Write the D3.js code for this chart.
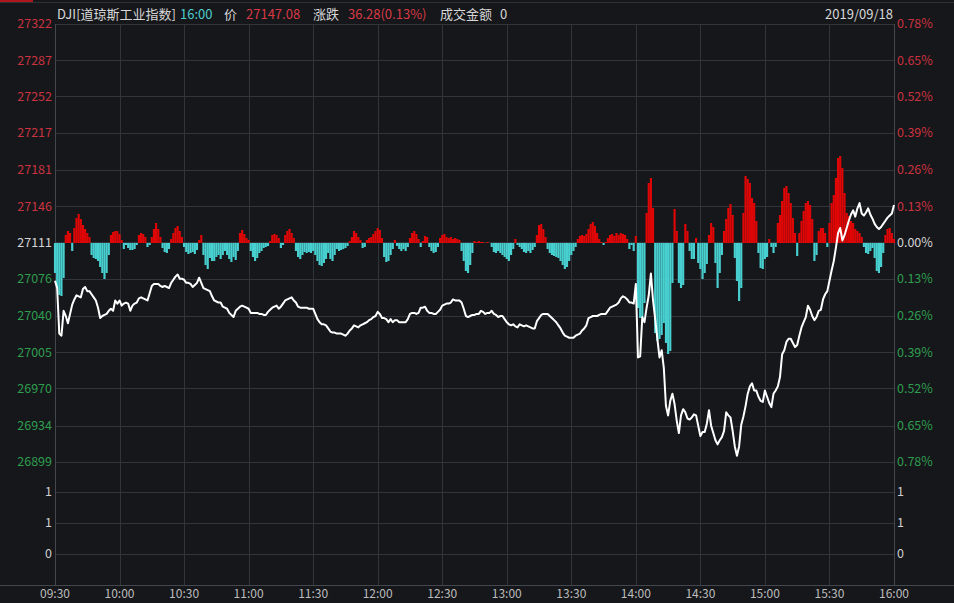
<!DOCTYPE html>
<html>
<head>
<meta charset="utf-8">
<script src="https://cdn.jsdelivr.net/npm/d3@7"></script>
<style>
  body { margin: 0; background: #16171b; }
  svg { display: block; font-family: "Noto Sans CJK SC", "Noto Sans", sans-serif; }
</style>
</head>
<body>
<svg class="chart"></svg>
<script>
// DJI intraday, 2019/09/18
var prevClose = 27110.8;

var timeLabels = ['09:30','10:00','10:30','11:00','11:30','12:00','12:30','13:00','13:30','14:00','14:30','15:00','15:30','16:00'];
var timeMinutes = [0,30,60,90,120,150,180,210,240,270,300,330,360,390];

var priceTicks = [27322,27287,27252,27217,27181,27146,27111,27076,27040,27005,26970,26934,26899];
var pctLabels = ['0.78%','0.65%','0.52%','0.39%','0.26%','0.13%','0.00%','0.13%','0.26%','0.39%','0.52%','0.65%','0.78%'];
var volTicks = [1.4, 0.7, 0];

// one price per minute, 09:30 .. 16:00
var prices = [
  27074,27067,27023,27021,27045,27040,27033,27042,27051,27056,
  27060,27059,27058,27066,27068,27064,27064,27061,27058,27055,
  27048,27038,27040,27041,27042,27045,27047,27045,27055,27052,
  27055,27050,27052,27053,27052,27045,27050,27052,27053,27057,
  27058,27057,27056,27055,27062,27069,27071,27071,27071,27069,
  27068,27069,27068,27067,27072,27075,27078,27080,27076,27076,
  27075,27072,27072,27071,27068,27070,27072,27077,27072,27067,
  27066,27065,27064,27059,27055,27054,27053,27053,27049,27048,
  27047,27043,27041,27039,27045,27047,27049,27050,27049,27048,
  27047,27043,27043,27043,27043,27042,27042,27041,27041,27044,
  27046,27048,27049,27050,27047,27049,27052,27055,27056,27057,
  27058,27055,27053,27049,27048,27048,27048,27048,27047,27047,
  27047,27042,27037,27034,27032,27032,27031,27028,27025,27024,
  27024,27023,27023,27023,27022,27021,27023,27026,27028,27031,
  27030,27029,27031,27032,27033,27034,27036,27037,27039,27040,
  27044,27042,27038,27038,27037,27034,27037,27034,27036,27036,
  27034,27034,27034,27034,27037,27042,27043,27043,27042,27043,
  27048,27048,27049,27045,27043,27043,27042,27042,27044,27046,
  27050,27051,27052,27052,27053,27056,27055,27055,27055,27053,
  27047,27040,27039,27040,27041,27041,27042,27042,27045,27044,
  27042,27043,27043,27045,27042,27041,27039,27040,27040,27037,
  27034,27032,27031,27032,27030,27029,27032,27031,27030,27031,
  27030,27029,27028,27028,27035,27038,27041,27042,27042,27042,
  27040,27038,27036,27034,27031,27028,27024,27021,27020,27019,
  27019,27019,27021,27022,27023,27026,27028,27031,27038,27039,
  27040,27040,27040,27041,27042,27042,27042,27045,27048,27049,
  27050,27051,27053,27057,27059,27058,27056,27053,27053,27052,
  27071,27000,27001,27039,27034,27048,27060,27081,27055,27037,
  27018,27000,27007,26990,26953,26944,26958,26965,26955,26939,
  26927,26944,26950,26947,26941,26940,26942,26945,26944,26934,
  26924,26928,26928,26936,26949,26934,26927,26920,26916,26920,
  26923,26929,26947,26944,26942,26929,26914,26905,26914,26935,
  26943,26953,26965,26972,26975,26968,26968,26962,26958,26957,
  26968,26962,26956,26952,26965,26968,26972,26981,27003,27007,
  27015,27018,27018,27014,27010,27012,27021,27029,27034,27039,
  27050,27046,27040,27036,27039,27045,27046,27056,27061,27064,
  27074,27084,27093,27106,27120,27125,27113,27118,27125,27132,
  27138,27142,27136,27144,27149,27139,27137,27140,27144,27138,
  27134,27129,27126,27124,27126,27129,27132,27135,27137,27139,
  27147.08
];

// lead indicator bars, one per minute (red up, cyan down)
var leadBars = [
  -30,-45,-52,-53,-35,8,12,10,-8,15,
  25,29,24,18,14,10,6,-12,-15,-16,
  -18,-24,-30,-36,-30,-12,8,11,12,12,
  9,3,-6,-2,-5,-7,-7,-6,-2,8,
  10,9,6,-4,-2,6,14,20,14,6,
  -5,-9,-10,-6,4,10,15,17,12,6,
  -4,-9,-11,-10,-9,-11,-7,3,8,-12,
  -22,-26,-15,-18,-18,-14,-12,-16,-12,-8,
  -12,-16,-19,-14,-17,-8,10,13,9,5,
  3,-8,-14,-18,-15,-10,-8,-5,-4,-3,
  2,8,9,8,5,-5,-2,8,12,14,
  10,5,-8,-14,-16,-12,-9,-10,-9,-10,
  -8,-12,-18,-22,-23,-20,-16,-10,-16,-18,
  -12,-6,-8,-7,-6,-5,-3,2,6,12,
  10,6,3,-5,-4,3,5,6,9,12,
  15,13,5,-14,-19,-18,-12,-6,3,-3,
  -6,-8,-6,-8,-4,5,10,12,9,4,
  -4,2,7,6,-4,-8,-10,-9,-4,5,
  8,9,6,5,6,4,5,4,3,-8,
  -18,-28,-30,-22,-10,2,1,2,1,1,
  0,1,0,-4,-9,-10,-8,-10,-12,-14,
  -16,-18,-12,-6,4,-2,-4,-6,-9,-10,
  -8,-10,-7,-4,8,18,19,14,6,-6,
  -10,-12,-13,-14,-15,-18,-22,-26,-24,-18,
  -12,-8,-4,4,7,8,7,9,14,19,
  21,17,10,4,1,-2,1,5,8,9,
  7,10,8,10,9,8,4,-6,-2,-8,
  7,-65,-75,-75,-60,30,60,65,35,-90,
  -98,-96,-92,-80,-100,-111,-108,-40,34,12,
  -40,-45,-42,19,12,-8,-16,-16,5,-20,
  -26,-36,-30,-21,8,20,16,-20,-45,-30,
  -12,12,24,35,39,28,-15,-38,-58,-45,
  30,67,64,60,45,40,22,-10,-25,-26,
  -16,-14,4,-4,-10,-4,20,28,42,55,
  57,50,40,25,10,-13,10,22,32,40,
  42,38,24,-18,-12,12,15,15,10,-4,
  20,40,48,65,85,87,75,50,30,27,
  22,20,14,12,10,6,-4,-10,-11,-8,
  -5,-15,-28,-30,-24,-10,8,14,15,10,
  4
];

var W = 954, H = 603;
var padL = 55, padR = 894, padT = 24, priceBottom = 462, axisY = 585;

var svg = d3.select('.chart').attr('width', W).attr('height', H);

svg.append('rect').attr('width', W).attr('height', H).attr('fill', '#16171b');
// strip of the panel above
svg.append('rect').attr('x', 0).attr('y', 0).attr('width', 33).attr('height', 2).attr('fill', '#b0161e');
svg.append('line').attr('x1', 0).attr('x2', W).attr('y1', 2.5).attr('y2', 2.5).attr('stroke', '#2e3037');

var x = d3.scaleLinear().domain([0, 390]).range([padL, padR]);
var y = d3.scaleLinear().domain([26899, 27322]).range([priceBottom, padT]);
// lead indicator shares the price area, 1 unit ~ 1px
var yLead = d3.scaleLinear().domain([-219, 219]).range([priceBottom, padT]);
var yVol = d3.scaleLinear().domain([0, 1.4]).range([554, 492]);

var gridColor = '#32343b';

// horizontal grid
svg.append('g').selectAll('line').data(priceTicks).join('line')
   .attr('x1', padL).attr('x2', padR)
   .attr('y1', d => Math.round(y(d)) + 0.5).attr('y2', d => Math.round(y(d)) + 0.5)
   .attr('stroke', gridColor);
svg.append('g').selectAll('line').data(volTicks).join('line')
   .attr('x1', padL).attr('x2', padR)
   .attr('y1', d => Math.round(yVol(d)) + 0.5).attr('y2', d => Math.round(yVol(d)) + 0.5)
   .attr('stroke', gridColor);

// vertical grid
svg.append('g').selectAll('line').data(timeMinutes).join('line')
   .attr('x1', d => Math.round(x(d)) + 0.5).attr('x2', d => Math.round(x(d)) + 0.5)
   .attr('y1', padT).attr('y2', axisY)
   .attr('stroke', d => (d === 0 || d === 390) ? '#45474f' : gridColor);

// bottom axis line
svg.append('line').attr('x1', 0).attr('x2', W).attr('y1', axisY + 0.5).attr('y2', axisY + 0.5)
   .attr('stroke', '#45474f');

// lead bars
var step = x(1) - x(0);
svg.append('g').selectAll('rect').data(leadBars).join('rect')
   .attr('x', (d, i) => x(i) - step / 2)
   .attr('width', step)
   .attr('y', d => d >= 0 ? yLead(d) : yLead(0))
   .attr('height', d => Math.abs(yLead(d) - yLead(0)))
   .attr('fill', d => d >= 0 ? '#e00606' : '#48d0d1');

// price line
var line = d3.line().x((d, i) => x(i)).y(d => y(d));
svg.append('path').datum(prices)
   .attr('d', line)
   .attr('fill', 'none')
   .attr('stroke', '#ffffff')
   .attr('stroke-width', 2)
   .attr('stroke-linejoin', 'round');

// left price labels
var mid = 6;
function tickColor(i) { return i < mid ? '#c9333f' : (i === mid ? '#d6d6d6' : '#2f9d4e'); }

svg.append('g').selectAll('text').data(priceTicks).join('text')
   .attr('x', 52).attr('y', d => y(d))
   .attr('dy', '0.35em').attr('text-anchor', 'end')
   .attr('font-size', 12.5)
   .attr('fill', (d, i) => tickColor(i))
   .text(d => d);

svg.append('g').selectAll('text').data(pctLabels).join('text')
   .attr('x', 897).attr('y', (d, i) => y(priceTicks[i]))
   .attr('dy', '0.35em')
   .attr('font-size', 12.5)
   .attr('fill', (d, i) => tickColor(i))
   .text(d => d);

// volume labels
var volFmt = d3.format('.0f');
svg.append('g').selectAll('text').data(volTicks).join('text')
   .attr('x', 52).attr('y', d => yVol(d)).attr('dy', '0.35em')
   .attr('text-anchor', 'end').attr('font-size', 12.5).attr('fill', '#cfcfcf')
   .text(d => volFmt(d));
svg.append('g').selectAll('text').data(volTicks).join('text')
   .attr('x', 897).attr('y', d => yVol(d)).attr('dy', '0.35em')
   .attr('font-size', 12.5).attr('fill', '#cfcfcf')
   .text(d => volFmt(d));

// time labels
svg.append('g').selectAll('text').data(timeLabels).join('text')
   .attr('x', (d, i) => x(timeMinutes[i])).attr('y', 594).attr('dy', '0.35em')
   .attr('text-anchor', 'middle').attr('font-size', 12).attr('fill', '#bdbdbd')
   .text(d => d);

// header
var header = [
  {t: 'DJI[道琼斯工业指数]', x: 57, c: '#d8d8d8'},
  {t: '16:00', x: 180, c: '#4ccccc'},
  {t: '价', x: 224, c: '#d8d8d8'},
  {t: '27147.08', x: 246, c: '#d83a44'},
  {t: '涨跌', x: 313, c: '#d8d8d8'},
  {t: '36.28(0.13%)', x: 348, c: '#d83a44'},
  {t: '成交金额', x: 440, c: '#d8d8d8'},
  {t: '0', x: 500, c: '#d8d8d8'}
];
svg.append('g').selectAll('text').data(header).join('text')
   .attr('x', d => d.x).attr('y', 14).attr('dy', '0.35em')
   .attr('font-size', 13).attr('fill', d => d.c)
   .text(d => d.t);

svg.append('text').attr('x', 893).attr('y', 14).attr('dy', '0.35em')
   .attr('text-anchor', 'end').attr('font-size', 13).attr('fill', '#d8d8d8')
   .text('2019/09/18');
</script>
</body>
</html>
